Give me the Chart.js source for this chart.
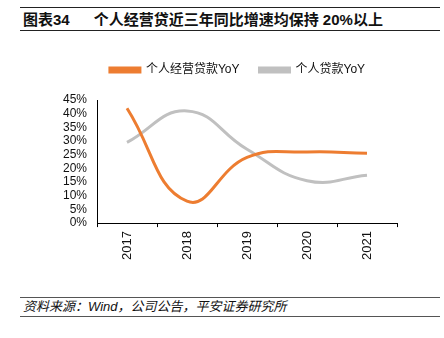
<!DOCTYPE html>
<html>
<head>
<meta charset="utf-8">
<script src="https://cdn.jsdelivr.net/npm/chart.js@4"></script>
<style>
  body { margin: 0; background: #fff; width: 444px; height: 338px; position: relative; overflow: hidden;
         font-family: "Liberation Sans", "Noto Sans CJK SC", sans-serif; }
  #titulo { position: absolute; left: 20px; top: 7px; width: 420px; height: 22px;
            border-top: 1.5px solid #222; border-bottom: 1.5px solid #222;
            font-size: 15px; font-weight: bold; line-height: 24px; color: #111; }
  #titulo span { margin-left: 3px; margin-right: 24px; }
  #fonte { position: absolute; left: 20px; top: 297px; width: 420px; height: 18px;
           border-top: 1.5px solid #555; border-bottom: 1.5px solid #555;
           font-size: 13px; font-style: italic; line-height: 18px; color: #111; }
  #fonte span { margin-left: 3px; }
  #area { position: absolute; left: 30px; top: 44px; width: 414px; height: 220px; }
</style>
</head>
<body>
<div id="titulo"><span>图表34</span>个人经营贷近三年同比增速均保持 20%以上</div>
<div id="area"><canvas id="grafico"></canvas></div>
<div id="fonte"><span>资料来源：Wind，公司公告，平安证券研究所</span></div>
<script>
var anos = ["2017", "2018", "2019", "2020", "2021"];
var nomeSerieA = "个人经营贷款YoY";
var nomeSerieB = "个人贷款YoY";
var valoresA = [0.42, 0.08, 0.24, 0.26, 0.255];
var valoresB = [0.295, 0.41, 0.27, 0.155, 0.175];

// legenda: mais espaço embaixo e deslocada para a direita
var ajustarLegenda = {
  id: "ajustarLegenda",
  beforeInit: function (chart) {
    var fitOriginal = chart.legend.fit;
    chart.legend.fit = function () {
      fitOriginal.call(this);
      this.height += 14;
    };
  },
  afterUpdate: function (chart) {
    chart.legend.left += 24;
    chart.legend.right += 24;
  }
};

var ctx = grafico.getContext("2d");
new Chart(ctx, {
  type: "line",
  data: {
    labels: anos,
    datasets: [
      { label: nomeSerieA, data: valoresA, borderColor: "#ED7D31", backgroundColor: "#ED7D31",
        borderWidth: 3, pointRadius: 0, tension: 0.45 },
      { label: nomeSerieB, data: valoresB, borderColor: "#C0C0C0", backgroundColor: "#C0C0C0",
        borderWidth: 3, pointRadius: 0, tension: 0.45 }
    ]
  },
  plugins: [ajustarLegenda],
  options: {
    responsive: true,
    maintainAspectRatio: false,
    animation: false,
    layout: { padding: { left: 0, right: 47, top: 0, bottom: 0 } },
    plugins: {
      legend: {
        position: "top",
        labels: { color: "#111", boxWidth: 30, boxHeight: 4, padding: 20,
                  font: { size: 12, family: "Liberation Sans, Noto Sans CJK SC" } }
      },
      tooltip: { enabled: false }
    },
    scales: {
      x: {
        offset: true,
        grid: { offset: true, drawOnChartArea: false, color: "#000", tickLength: 4 },
        border: { color: "#000", width: 1 },
        ticks: { color: "#111", minRotation: 90, maxRotation: 90, padding: 4,
                 font: { size: 13, family: "Liberation Sans" } }
      },
      y: {
        min: 0,
        max: 0.45,
        afterFit: function (escala) { escala.width = 67; },
        grid: { display: false, drawTicks: false },
        border: { display: true, color: "#000", width: 1 },
        ticks: { stepSize: 0.05, autoSkip: false, color: "#111", padding: 10,
                 font: { size: 12, family: "Liberation Sans" },
                 callback: function (v) { return Math.round(v * 100) + "%"; } }
      }
    }
  }
});
</script>
</body>
</html>
